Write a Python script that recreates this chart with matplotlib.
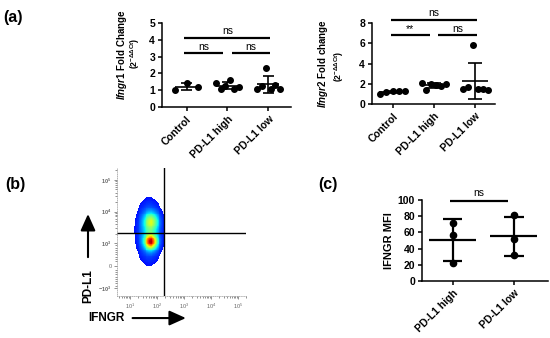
import numpy as np
import matplotlib.pyplot as plt
from matplotlib.patches import FancyArrowPatch
from matplotlib.ticker import FixedLocator, FixedFormatter, LogLocator, SymmetricalLogLocator, NullFormatter

plt.rcParams['font.family'] = ['Liberation Sans', 'DejaVu Sans']
plt.rcParams['mathtext.fontset'] = 'custom'
plt.rcParams['mathtext.rm'] = 'Liberation Sans:bold'
plt.rcParams['mathtext.it'] = 'Liberation Sans:italic:bold'
plt.rcParams['mathtext.bf'] = 'Liberation Sans:bold'

# --- data ---
groups_a = ['Control', 'PD-L1 high', 'PD-L1 low']
ifngr1 = [[1.0, 1.43, 1.2],
          [1.4, 1.05, 1.25, 1.6, 1.1, 1.2],
          [1.07, 1.25, 2.32, 1.07, 1.3, 1.07]]
ifngr2 = [[1.0, 1.15, 1.25, 1.28, 1.25],
          [2.05, 1.4, 1.95, 1.85, 1.8, 1.95],
          [1.45, 1.7, 5.85, 1.5, 1.45, 1.4]]
sig_a1 = [('ns', 0, 2, 4.1), ('ns', 0, 1, 3.2), ('ns', 1, 2, 3.2)]
sig_a2 = [('ns', 0, 2, 8.3), ('**', 0, 1, 6.8), ('ns', 1, 2, 6.8)]

groups_c = ['PD-L1 high', 'PD-L1 low']
mfi = [[72, 57, 22], [81, 52, 32]]
sig_c = [('ns', 0, 1, 99)]

# flow cytometry populations (IFNGR, PD-L1 centres, spread in decades, weight)
pop_ifngr = [62, 60, 52]
pop_pdl1 = [4800, 1100, 2300]
pop_sx = [0.19, 0.16, 0.27]
pop_sy = [0.2, 0.16, 0.55]
pop_w = [0.36, 0.72, 0.22]
flow_yticks = [-1e3, 0, 1e3, 1e4, 1e5]
flow_ylabels = [r'$-10^3$', '0', r'$10^3$', r'$10^4$', r'$10^5$']
gate_x = 180
gate_y = 2150

fig = plt.figure(figsize=(5.5, 3.38), dpi=100)


def dot_plot(ax, groups, spread, mean_w, cap_w, ms, lw):
    for i, vals in enumerate(groups):
        vals = np.array(vals, dtype=float)
        if len(vals) > 1 and spread > 0:
            xs = i + np.linspace(-spread, spread, len(vals))
        else:
            xs = np.full(len(vals), i)
        m = vals.mean()
        sd = vals.std(ddof=1)
        ax.hlines(m, i - mean_w, i + mean_w, color='black', lw=lw, zorder=2)
        ax.vlines(i, m - sd, m + sd, color='black', lw=lw, zorder=2)
        ax.hlines([m - sd, m + sd], i - cap_w, i + cap_w, color='black', lw=lw, zorder=2)
        ax.plot(xs, vals, 'o', color='black', ms=ms, zorder=3, clip_on=False)


def sig_bars(ax, sigs, dy, fs):
    for txt, i, j, h in sigs:
        x0 = i + (0.15 if (j - i == 1 and i == 1) else 0) - 0.05
        x1 = j - (0.15 if (j - i == 1 and j == 1) else 0) + 0.05
        ax.plot([x0, x1], [h, h], color='black', lw=1.6, clip_on=False,
                solid_capstyle='butt')
        ax.text((x0 + x1) / 2, h + dy, txt, ha='center', va='bottom', fontsize=fs)


def style_ax(ax, labels):
    for s in ['top', 'right']:
        ax.spines[s].set_visible(False)
    for s in ['left', 'bottom']:
        ax.spines[s].set_linewidth(1.1)
    ax.set_xticks(range(len(labels)))
    ax.set_xticklabels(labels, rotation=45, ha='right', rotation_mode='anchor',
                       fontsize=7.8, fontweight='bold')
    ax.tick_params(width=1.1, length=3, labelsize=7.5, pad=2)
    for t in ax.get_yticklabels():
        t.set_fontweight('bold')


# (a) Ifngr1
ax1 = fig.add_axes([0.2945, 0.6834, 0.2345, 0.2485])
dot_plot(ax1, ifngr1, 0.28, 0.27, 0.13, 4, 1.2)
sig_bars(ax1, sig_a1, 0.1, 7.5)
ax1.set_xlim(-0.6, 2.55)
ax1.set_ylim(0, 5)
ax1.set_yticks(range(0, 6))
style_ax(ax1, groups_a)
ax1.text(-0.31, 0.62, r'$\mathit{Ifngr1}$ Fold Change', rotation=90, transform=ax1.transAxes,
         ha='center', va='center', fontsize=7, fontweight='bold')
ax1.text(-0.21, 0.64, r'(2$^{-\Delta\Delta \mathrm{Ct}}$)', rotation=90, transform=ax1.transAxes,
         ha='center', va='center', fontsize=6.3, fontweight='bold')

# (a) Ifngr2
ax2 = fig.add_axes([0.6764, 0.6923, 0.2236, 0.2396])
dot_plot(ax2, ifngr2, 0.3, 0.32, 0.17, 4, 1.2)
sig_bars(ax2, sig_a2, 0.15, 7.5)
ax2.set_xlim(-0.5, 2.48)
ax2.set_ylim(0, 8)
ax2.set_yticks(range(0, 9, 2))
style_ax(ax2, groups_a)
ax2.text(-0.40, 0.5, r'$\mathit{Ifngr2}$ Fold change', rotation=90, transform=ax2.transAxes,
         ha='center', va='center', fontsize=7, fontweight='bold')
ax2.text(-0.27, 0.46, r'(2$^{-\Delta\Delta \mathrm{Ct}}$)', rotation=90, transform=ax2.transAxes,
         ha='center', va='center', fontsize=6.3, fontweight='bold')

# (c) IFNGR MFI
ax3 = fig.add_axes([0.7673, 0.1686, 0.229, 0.2396])
dot_plot(ax3, mfi, 0, 0.38, 0.16, 4.5, 1.6)
sig_bars(ax3, sig_c, 3, 7.5)
ax3.set_xlim(-0.5, 1.56)
ax3.set_ylim(0, 100)
ax3.set_yticks(range(0, 101, 20))
style_ax(ax3, groups_c)
ax3.set_ylabel('IFNGR MFI', fontsize=8, fontweight='bold', labelpad=3)

# (b) flow cytometry density plot
axb = fig.add_axes([0.2127, 0.1243, 0.2345, 0.3787])
axb.set_xscale('log')
axb.set_yscale('symlog', linthresh=1000, linscale=0.64)
axb.set_xlim(3.3, 2e5)
axb.set_ylim(-1800, 2.4e5)
tx = axb.xaxis.get_transform()
ty = axb.yaxis.get_transform()


def fwd(t, a):
    return t.transform(np.asarray(a, dtype=float).reshape(-1, 1)).ravel()


def inv(t, a):
    return t.inverted().transform(np.asarray(a, dtype=float).reshape(-1, 1)).ravel()


gx = np.linspace(*fwd(tx, axb.get_xlim()), 150)
gy = np.linspace(*fwd(ty, axb.get_ylim()), 150)
cx = (gx[:-1] + gx[1:]) / 2
cy = (gy[:-1] + gy[1:]) / 2
CX, CY = np.meshgrid(cx, cy)
dens = np.zeros_like(CX)
for px, py, sx, sy, w in zip(pop_ifngr, pop_pdl1, pop_sx, pop_sy, pop_w):
    mx = fwd(tx, [px])[0]
    my = fwd(ty, [py])[0]
    dens += w * np.exp(-0.5 * ((CX - mx) / sx) ** 2 - 0.5 * ((CY - my) / (sy * 1000)) ** 2)
dens = np.ma.masked_less(dens, 0.03)
axb.pcolormesh(inv(tx, gx), inv(ty, gy), dens, cmap='jet', vmin=-0.12, vmax=0.95,
               shading='flat', rasterized=True)
axb.axvline(gate_x, color='black', lw=1)
axb.axhline(gate_y, color='black', lw=1)
for s in ['top', 'right']:
    axb.spines[s].set_visible(False)
for s in ['left', 'bottom']:
    axb.spines[s].set_color('#999999')
    axb.spines[s].set_linewidth(0.5)
    axb.spines[s].set_linestyle(':')
axb.xaxis.set_major_locator(FixedLocator([1e1, 1e2, 1e3, 1e4, 1e5]))
axb.xaxis.set_minor_locator(LogLocator(base=10, subs=np.arange(2, 10)))
axb.xaxis.set_minor_formatter(NullFormatter())
axb.yaxis.set_major_locator(FixedLocator(flow_yticks))
axb.yaxis.set_major_formatter(FixedFormatter(flow_ylabels))
axb.yaxis.set_minor_locator(SymmetricalLogLocator(ty, subs=np.arange(2, 10)))
axb.tick_params(which='both', colors='#666666', labelsize=4, length=1.5, width=0.5, pad=1.5)
axb.tick_params(which='major', length=2.5)

fig.text(0.16, 0.154, 'PD-L1', rotation=90, ha='center', va='center',
         fontsize=8.5, fontweight='bold')
fig.text(0.193, 0.059, 'IFNGR', ha='center', va='center', fontsize=8.5, fontweight='bold')
fig.add_artist(FancyArrowPatch(
    (0.16, 0.231), (0.16, 0.375), transform=fig.transFigure, mutation_scale=10,
    arrowstyle='-|>,head_length=1.0,head_width=0.45', color='black', lw=1.5))
fig.add_artist(FancyArrowPatch(
    (0.236, 0.059), (0.343, 0.059), transform=fig.transFigure, mutation_scale=10,
    arrowstyle='-|>,head_length=1.0,head_width=0.45', color='black', lw=1.5))

# panel letters
fig.text(0.006, 0.947, '(a)', fontsize=11.5, fontweight='bold', va='center')
fig.text(0.009, 0.455, '(b)', fontsize=11.5, fontweight='bold', va='center')
fig.text(0.578, 0.453, '(c)', fontsize=11.5, fontweight='bold', va='center')

fig.savefig('out.png', dpi=100)
